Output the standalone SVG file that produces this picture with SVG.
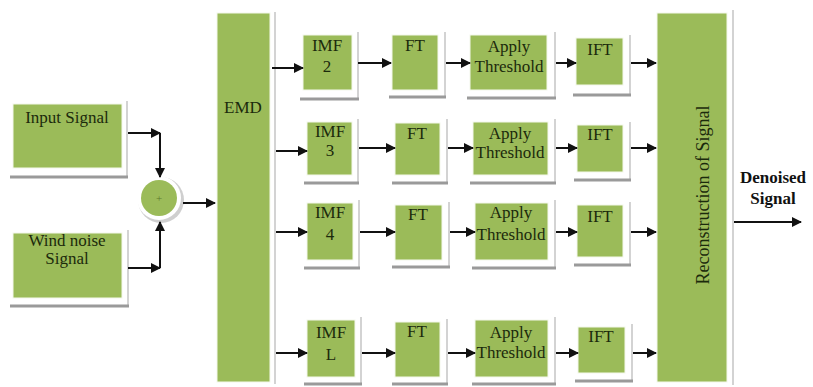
<svg xmlns="http://www.w3.org/2000/svg" width="813" height="387" viewBox="0 0 813 387">
<defs>
<style>
.box{fill:#9bbb59;stroke:#f4f8ec;stroke-width:1}
.sh{fill:none;stroke:#9a9a9a;stroke-width:3}
.shr{fill:none;stroke:#c4c4c4;stroke-width:1.5}
text{font-family:"Liberation Serif","DejaVu Serif",serif;font-size:17px;fill:#1b2a0c;text-anchor:middle}
.b{font-weight:bold;fill:#111}
.c{fill:none;stroke:#111;stroke-width:2}
</style>
<marker id="ah" viewBox="0 0 10 10" refX="9" refY="5" markerWidth="5" markerHeight="5" orient="auto" markerUnits="strokeWidth">
<path d="M0,0 L10,5 L0,10 z" fill="#111"/>
</marker>
</defs>
<rect width="813" height="387" fill="#ffffff"/>

<g id="input-signal">
<path class="shr" d="M127,101 V178"/><path class="sh" d="M10,177 H128"/>
<rect class="box" x="13" y="104" width="109" height="64"/>
<text x="67" y="123">Input Signal</text>
</g>
<g id="wind-noise">
<path class="shr" d="M128,230 V307"/><path class="sh" d="M10,306 H129"/>
<rect class="box" x="13" y="233" width="109" height="65"/>
<text x="67" y="246">Wind noise</text>
<text x="67" y="264">Signal</text>
</g>
<g id="sum">
<circle cx="161" cy="200" r="23" fill="#cfcfcf"/>
<circle cx="159" cy="198" r="22" fill="#ffffff"/>
<circle cx="159" cy="198" r="18" fill="#9bbb59"/>
<text x="159" y="202" style="font-size:11px;fill:#5d7a2c">+</text>
</g>
<g id="emd">
<path class="shr" d="M275,12 V384"/>
<rect class="box" x="217" y="13" width="53" height="369"/>
<text x="243" y="113">EMD</text>
</g>

<g id="imf2">
<path class="shr" d="M358,32 V100"/><path class="sh" d="M300,99 H359"/>
<rect class="box" x="303" y="35" width="49" height="55"/>
<text x="327" y="51">IMF</text><text x="327" y="72">2</text>
</g>
<g id="ft1">
<path class="shr" d="M445,32 V98"/><path class="sh" d="M389,97 H446"/>
<rect class="box" x="392" y="35" width="46" height="55"/>
<text x="415" y="51">FT</text>
</g>
<g id="thr1">
<path class="shr" d="M555,32 V99"/><path class="sh" d="M467,98 H556"/>
<rect class="box" x="470" y="35" width="77" height="55"/>
<text x="509" y="52">Apply</text><text x="509" y="72">Threshold</text>
</g>
<g id="ift1">
<path class="shr" d="M630,35 V96"/><path class="sh" d="M573,95 H631"/>
<rect class="box" x="576" y="38" width="47" height="47"/>
<text x="600" y="55">IFT</text>
</g>

<g id="imf3">
<path class="shr" d="M358,119 V184"/><path class="sh" d="M304,183 H359"/>
<rect class="box" x="307" y="122" width="45" height="53"/>
<text x="330" y="137">IMF</text><text x="330" y="156">3</text>
</g>
<g id="ft2">
<path class="shr" d="M447,119 V184"/><path class="sh" d="M392,183 H448"/>
<rect class="box" x="395" y="123" width="45" height="52"/>
<text x="417" y="139">FT</text>
</g>
<g id="thr2">
<path class="shr" d="M555,119 V184"/><path class="sh" d="M470,183 H556"/>
<rect class="box" x="473" y="122" width="75" height="53"/>
<text x="510" y="139">Apply</text><text x="510" y="158">Threshold</text>
</g>
<g id="ift2">
<path class="shr" d="M630,122 V181"/><path class="sh" d="M574,180 H631"/>
<rect class="box" x="577" y="125" width="46" height="47"/>
<text x="600" y="140">IFT</text>
</g>

<g id="imf4">
<path class="shr" d="M359,200 V269"/><path class="sh" d="M304,268 H360"/>
<rect class="box" x="307" y="203" width="46" height="57"/>
<text x="330" y="218">IMF</text><text x="330" y="240">4</text>
</g>
<g id="ft3">
<path class="shr" d="M449,202 V268"/><path class="sh" d="M392,267 H450"/>
<rect class="box" x="395" y="205" width="47" height="55"/>
<text x="418" y="220">FT</text>
</g>
<g id="thr3">
<path class="shr" d="M555,200 V269"/><path class="sh" d="M472,268 H556"/>
<rect class="box" x="475" y="203" width="73" height="57"/>
<text x="511" y="218">Apply</text><text x="511" y="240">Threshold</text>
</g>
<g id="ift3">
<path class="shr" d="M630,202 V266"/><path class="sh" d="M574,265 H631"/>
<rect class="box" x="577" y="205" width="46" height="52"/>
<text x="600" y="222">IFT</text>
</g>

<g id="imfL">
<path class="shr" d="M361,317 V384"/><path class="sh" d="M304,384 H362"/>
<rect class="box" x="307" y="320" width="48" height="57"/>
<text x="331" y="338">IMF</text><text x="331" y="360">L</text>
</g>
<g id="ft4">
<path class="shr" d="M447,319 V384"/><path class="sh" d="M392,384 H448"/>
<rect class="box" x="395" y="322" width="45" height="55"/>
<text x="417" y="337">FT</text>
</g>
<g id="thr4">
<path class="shr" d="M555,317 V384"/><path class="sh" d="M472,384 H556"/>
<rect class="box" x="475" y="320" width="73" height="57"/>
<text x="511" y="338">Apply</text><text x="511" y="358">Threshold</text>
</g>
<g id="ift4">
<path class="shr" d="M632,324 V382"/><path class="sh" d="M575,381 H633"/>
<rect class="box" x="578" y="327" width="47" height="46"/>
<text x="601" y="342">IFT</text>
</g>

<g id="reconstruction">
<path class="shr" d="M733,10 V385"/>
<rect class="box" x="657" y="13" width="70" height="369"/>
<text transform="translate(709,195) rotate(-90)" style="font-size:18px">Reconstruction of Signal</text>
</g>
<g id="denoised-label">
<text class="b" x="773" y="183">Denoised</text>
<text class="b" x="773" y="204">Signal</text>
</g>

<g id="connectors">
<path class="c" d="M128,133 H160" marker-end="url(#ah)"/>
<path class="c" d="M160,133 V177" marker-end="url(#ah)"/>
<path class="c" d="M128,268 H160" marker-end="url(#ah)"/>
<path class="c" d="M160,268 V222" marker-end="url(#ah)"/>
<path class="c" d="M183,203 H215" marker-end="url(#ah)"/>

<path class="c" d="M272,68 H303" marker-end="url(#ah)"/>
<path class="c" d="M358,63 H391" marker-end="url(#ah)"/>
<path class="c" d="M446,63 H470" marker-end="url(#ah)"/>
<path class="c" d="M556,63 H576" marker-end="url(#ah)"/>
<path class="c" d="M631,63 H656" marker-end="url(#ah)"/>

<path class="c" d="M276,151 H307" marker-end="url(#ah)"/>
<path class="c" d="M359,148 H395" marker-end="url(#ah)"/>
<path class="c" d="M448,148 H473" marker-end="url(#ah)"/>
<path class="c" d="M556,148 H577" marker-end="url(#ah)"/>
<path class="c" d="M631,148 H656" marker-end="url(#ah)"/>

<path class="c" d="M276,232 H307" marker-end="url(#ah)"/>
<path class="c" d="M360,232 H395" marker-end="url(#ah)"/>
<path class="c" d="M450,232 H475" marker-end="url(#ah)"/>
<path class="c" d="M556,232 H577" marker-end="url(#ah)"/>
<path class="c" d="M631,232 H656" marker-end="url(#ah)"/>

<path class="c" d="M276,353 H307" marker-end="url(#ah)"/>
<path class="c" d="M362,353 H395" marker-end="url(#ah)"/>
<path class="c" d="M448,353 H475" marker-end="url(#ah)"/>
<path class="c" d="M556,353 H578" marker-end="url(#ah)"/>
<path class="c" d="M633,353 H656" marker-end="url(#ah)"/>

<path class="c" d="M734,222 H801" marker-end="url(#ah)"/>
</g>
</svg>
